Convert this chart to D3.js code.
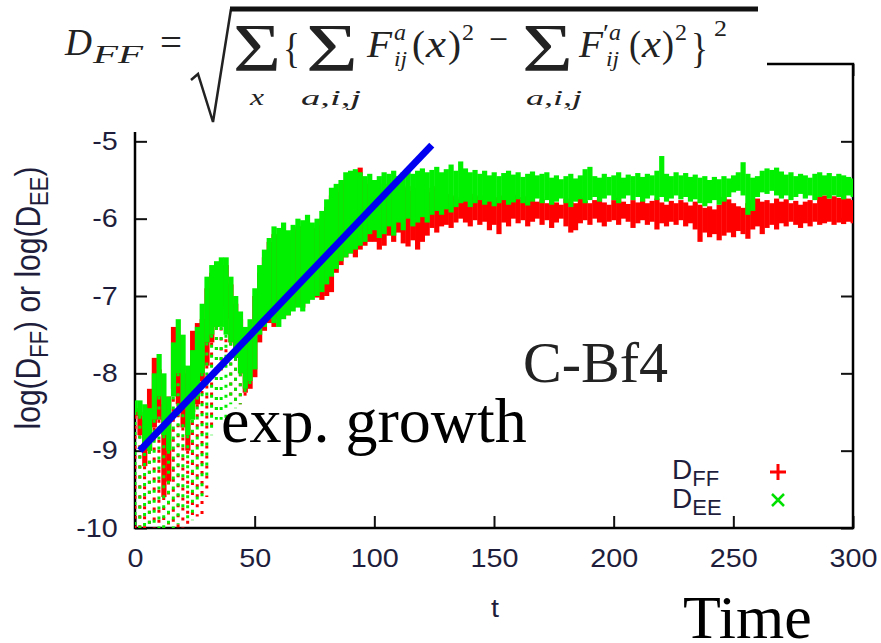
<!DOCTYPE html>
<html><head><meta charset="utf-8">
<script src="https://d3js.org/d3.v7.min.js"></script>
<style>
  body { margin: 0; background: #fff; }
  svg { display: block; }
  .tick text { font-family: "Liberation Sans", Arial, sans-serif; font-size: 25px; fill: #1e1e3c; }
  .tick line { stroke: #111; stroke-width: 2; }
</style>
</head>
<body>
<svg id="chart" width="881" height="643"></svg>
<script>
// ---- data ----
// time grid: one bin every 2 units of t, 0..300
let tValues = d3.range(0, 301, 2);

let xTicks = [0, 50, 100, 150, 200, 250, 300];
let yTicks = [-10, -9, -8, -7, -6, -5];

// D_FF (red): dense band top / bottom per bin
let redHi = [
  -8.45,-8.50,-8.60,-8.20,-7.80,-7.95,-8.40,-8.30,-7.40,-7.50,-7.90,-8.00,-7.45,-7.35,-7.30,-6.90,-6.70,-6.70,-6.60,-6.60,-6.85,-7.10,-7.30,-7.50,-7.40,
  -7.00,-6.70,-6.50,-6.30,-6.20,-6.20,-6.15,-6.22,-6.15,-6.10,-6.10,-6.05,-6.12,-6.08,-6.00,-5.85,-5.70,-5.65,-5.55,-5.50,-5.45,-5.45,-5.34,-5.50,-5.55,
  -5.60,-5.65,-5.55,-5.62,-5.58,-5.65,-5.60,-5.58,-5.64,-5.60,
  -5.62,-5.66,-5.60,-5.58,-5.62,-5.68,-5.70,-5.72,-5.75,-5.70,
  -5.68,-5.72,-5.70,-5.74,-5.69,-5.72,-5.75,-5.70,-5.73,-5.69,
  -5.72,-5.76,-5.71,-5.74,-5.78,-5.75,-5.80,-5.76,-5.79,-5.82,
  -5.74,-5.78,-5.80,-5.73,-5.77,-5.80,-5.76,-5.74,-5.79,-5.82,
  -5.76,-5.73,-5.78,-5.81,-5.76,-5.79,-5.75,-5.80,-5.77,-5.74,
  -5.79,-5.82,-5.77,-5.80,-5.76,-5.79,-5.83,-5.78,-5.82,-5.86,
  -5.84,-5.88,-5.82,-5.72,-5.75,-5.80,-5.84,-5.86,-5.80,-5.76,
  -5.74,-5.78,-5.76,-5.80,-5.74,-5.78,-5.75,-5.80,-5.77,-5.82,
  -5.78,-5.76,-5.80,-5.72,-5.70,-5.74,-5.71,-5.73,-5.70,-5.74,
  -5.76
];
let redLo = [
  -8.55,-8.80,-9.20,-9.00,-8.70,-8.60,-9.60,-9.40,-8.20,-8.40,-8.70,-9.00,-8.50,-8.40,-8.10,-7.90,-7.60,-7.40,-7.15,-7.30,-7.60,-7.80,-8.00,-8.25,-8.20,
  -8.05,-7.60,-7.45,-7.35,-7.40,-7.30,-7.20,-7.25,-7.15,-7.10,-7.15,-7.05,-7.00,-7.02,-7.05,-7.00,-6.95,-6.70,-6.60,-6.50,-6.45,-6.50,-6.40,-6.35,-6.30,
  -6.30,-6.40,-6.35,-6.22,-6.30,-6.18,-6.32,-6.36,-6.28,-6.40,
  -6.30,-6.22,-6.12,-6.18,-6.10,-6.08,-6.12,-6.05,-6.00,-6.05,
  -6.10,-6.02,-6.08,-6.04,-6.15,-6.08,-6.20,-6.05,-6.10,-6.00,
  -6.06,-6.02,-6.10,-6.04,-6.00,-6.08,-6.02,-6.12,-6.05,-6.00,
  -6.10,-6.18,-6.15,-6.06,-6.02,-6.08,-6.00,-6.05,-6.10,-6.04,
  -6.02,-6.08,-6.00,-6.04,-6.12,-6.06,-6.02,-6.08,-6.04,-6.14,
  -6.06,-6.10,-6.04,-6.08,-6.02,-6.10,-6.06,-6.14,-6.30,-6.18,
  -6.24,-6.20,-6.28,-6.22,-6.18,-6.24,-6.16,-6.20,-6.26,-6.14,
  -6.10,-6.20,-6.12,-6.08,-6.14,-6.06,-6.10,-6.04,-6.08,-6.12,
  -6.06,-6.10,-6.04,-6.08,-6.06,-6.04,-6.08,-6.05,-6.07,-6.04,
  -6.06
];
// sparse scattered points below the band during the early oscillations (t = 0..48)
let redTail = [-10,-10,-10,-10,-10,-10,-10,-10,-10,-10,-10,-10,-9.90,-9.85,-9.90,-9.60,-8.70,-8.50,-8.00,-7.80,-8.30,-8.40,-8.40,-8.30,-8.20];

// D_EE (green)
let greenHi = [
  -8.35,-8.35,-8.40,-8.45,-8.00,-7.75,-8.00,-8.30,-7.60,-7.30,-7.50,-7.90,-7.70,-7.40,-7.10,-6.75,-6.60,-6.55,-6.50,-6.50,-6.75,-7.00,-7.20,-7.40,-7.30,
  -6.90,-6.60,-6.40,-6.25,-6.10,-6.12,-6.05,-6.15,-6.08,-6.00,-6.02,-5.95,-6.05,-6.00,-5.90,-5.75,-5.60,-5.55,-5.50,-5.40,-5.38,-5.36,-5.40,-5.45,-5.42,
  -5.50,-5.45,-5.40,-5.42,-5.38,-5.45,-5.40,-5.36,-5.42,-5.38,
  -5.35,-5.40,-5.37,-5.33,-5.40,-5.36,-5.30,-5.38,-5.26,-5.35,
  -5.40,-5.37,-5.42,-5.38,-5.44,-5.40,-5.45,-5.41,-5.38,-5.43,
  -5.40,-5.46,-5.42,-5.39,-5.44,-5.42,-5.40,-5.47,-5.44,-5.49,
  -5.45,-5.42,-5.48,-5.44,-5.36,-5.33,-5.45,-5.47,-5.42,-5.46,
  -5.44,-5.40,-5.47,-5.43,-5.45,-5.41,-5.46,-5.42,-5.44,-5.38,
  -5.19,-5.42,-5.45,-5.40,-5.44,-5.41,-5.46,-5.43,-5.47,-5.45,
  -5.50,-5.46,-5.49,-5.45,-5.48,-5.44,-5.40,-5.27,-5.42,-5.47,
  -5.45,-5.38,-5.35,-5.37,-5.34,-5.39,-5.43,-5.40,-5.45,-5.42,
  -5.44,-5.47,-5.42,-5.40,-5.44,-5.41,-5.45,-5.42,-5.44,-5.46,
  -5.48
];
let greenLo = [
  -8.50,-8.55,-8.90,-9.00,-8.60,-8.30,-8.80,-9.00,-8.30,-8.00,-8.40,-8.80,-8.60,-8.30,-8.00,-7.60,-7.50,-7.40,-7.40,-7.50,-7.60,-7.80,-8.00,-8.20,-8.10,
  -7.95,-7.50,-7.40,-7.30,-7.35,-7.40,-7.30,-7.25,-7.20,-7.15,-7.20,-7.10,-7.05,-7.00,-6.95,-6.85,-6.75,-6.65,-6.55,-6.50,-6.45,-6.40,-6.35,-6.30,-6.20,
  -6.15,-6.25,-6.20,-6.10,-6.22,-6.05,-6.15,-6.00,-6.10,-6.05,
  -5.98,-6.05,-5.95,-5.90,-5.95,-5.88,-5.92,-5.85,-5.80,-5.78,
  -5.85,-5.80,-5.76,-5.82,-5.78,-5.84,-5.80,-5.76,-5.82,-5.79,
  -5.75,-5.80,-5.83,-5.78,-5.74,-5.80,-5.76,-5.82,-5.78,-5.74,
  -5.80,-5.85,-5.78,-5.75,-5.80,-5.76,-5.72,-5.78,-5.74,-5.70,
  -5.76,-5.80,-5.74,-5.70,-5.76,-5.72,-5.78,-5.74,-5.70,-5.76,
  -5.72,-5.78,-5.74,-5.70,-5.75,-5.72,-5.78,-5.75,-5.80,-5.84,
  -5.80,-5.76,-5.82,-5.78,-5.72,-5.66,-5.64,-5.70,-5.95,-5.90,
  -5.72,-5.66,-5.68,-5.64,-5.70,-5.74,-5.70,-5.76,-5.72,-5.68,
  -5.74,-5.70,-5.76,-5.72,-5.70,-5.74,-5.70,-5.72,-5.75,-5.70,
  -5.72
];
let greenTail = [-10,-10,-10,-10,-10,-10,-10,-10,-10,-9.95,-9.80,-9.90,-9.90,-9.70,-9.60,-9.40,-8.80,-8.60,-8.60,-8.60,-8.40,-8.45,-8.40,-8.30,-8.20];

// fitted exponential-growth line (t, log D)
let growthT = [2, 124];
let growthV = [-9.0, -5.05];

// ---- layout ----
let svg = d3.select("#chart");
let x = d3.scaleLinear().domain([0, 300]).range([135, 853]);
let y = d3.scaleLinear().domain([-10, -4]).range([528, 64]);
let binHalf = 1;

svg.append("defs").append("clipPath").attr("id", "plotClip")
  .append("rect").attr("x", 135).attr("y", 64).attr("width", 718).attr("height", 464);

// axes with inward ticks (gnuplot style, mirrored)
let xAxis = svg.append("g").attr("transform", "translate(0,528)")
  .call(d3.axisBottom(x).tickValues(xTicks).tickSizeInner(-12).tickSizeOuter(0).tickPadding(21).tickFormat(d => String(d)));
let yAxis = svg.append("g").attr("transform", "translate(135,0)")
  .call(d3.axisLeft(y).tickValues(yTicks).tickSizeInner(-12).tickSizeOuter(0).tickPadding(15).tickFormat(d => String(d)));
svg.append("g").attr("transform", "translate(853,0)")
  .call(d3.axisRight(y).tickValues(yTicks).tickSizeInner(-12).tickSizeOuter(0).tickFormat(""));
svg.append("g").attr("transform", "translate(0,64)")
  .call(d3.axisTop(x).tickValues(xTicks).tickSizeInner(-12).tickSizeOuter(0).tickFormat(""));
svg.selectAll(".domain").remove();
xAxis.selectAll("text").attr("transform", "scale(1.15,1)");
yAxis.selectAll("text").attr("transform", "scale(1.15,1)");

svg.append("rect").attr("x", 135).attr("y", 64).attr("width", 718).attr("height", 464)
  .style("fill", "none").style("stroke", "#000").style("stroke-width", 2.5);

// ---- data marks ----
let plot = svg.append("g").attr("clip-path", "url(#plotClip)");

function drawSeries(hi, lo, tail, color) {
  let g = plot.append("g");
  g.selectAll("line.tail").data(tail).enter().append("line")
    .attr("class", "tail")
    .attr("x1", (d, i) => x(tValues[i])).attr("x2", (d, i) => x(tValues[i]))
    .attr("y1", (d, i) => y(lo[i])).attr("y2", d => y(d))
    .style("stroke", color).style("stroke-width", 3).style("stroke-dasharray", "3,7");
  g.selectAll("rect").data(hi).enter().append("rect")
    .attr("x", (d, i) => x(tValues[i] - binHalf))
    .attr("width", x(2 * binHalf) - x(0) + 0.4)
    .attr("y", d => y(d))
    .attr("height", (d, i) => y(lo[i]) - y(d))
    .style("fill", color);
}
drawSeries(redHi, redLo, redTail, "#ff0000");
drawSeries(greenHi, greenLo, greenTail, "#00f000");

// blank area behind the formula (covers top of frame)
svg.append("rect").attr("x", 0).attr("y", 0).attr("width", 767).attr("height", 132).style("fill", "#fff");

// exponential growth fit
svg.append("path")
  .datum(growthT.map((t, i) => [t, growthV[i]]))
  .attr("d", d3.line().x(d => x(d[0])).y(d => y(d[1])))
  .style("fill", "none").style("stroke", "#0000f0").style("stroke-width", 7);

// ---- formula ----
let fml = svg.append("g").style("font-family", "'Liberation Serif', 'Times New Roman', serif").style("fill", "#222");
let pieces = [
  ["D", 65, 55, 38, true, 27], ["FF", 93, 63, 26, true, 50], ["=", 160, 55, 38, false, 22],
  ["Σ", 233, 70, 68, false, 48], ["x", 250, 105, 24, true, 14], ["{", 283, 62, 42, false, 17],
  ["Σ", 306, 70, 68, false, 52], ["a,i,j", 301, 105, 22, true, 60],
  ["F", 367, 57, 38, true, 25], ["a", 394, 40, 24, true, 12], ["ij", 394, 66, 22, true, 13],
  ["(", 412, 57, 38, false, 13], ["x", 426, 57, 38, true, 20], [")", 448, 57, 38, false, 13],
  ["2", 462, 40, 24, false, 12], ["−", 489, 52, 38, false, 19],
  ["Σ", 522, 70, 68, false, 51], ["a,i,j", 526, 105, 22, true, 56],
  ["F", 579, 57, 38, true, 24], ["′", 603, 42, 26, false, 6], ["a", 609, 40, 24, true, 12], ["ij", 606, 66, 22, true, 13],
  ["(", 629, 57, 38, false, 12], ["x", 642, 57, 38, true, 19], [")", 662, 57, 38, false, 12],
  ["2", 675, 40, 24, false, 12], ["}", 691, 62, 42, false, 17], ["2", 714, 36, 24, false, 13]
];
pieces.forEach(function(p) {
  fml.append("text").attr("x", p[1]).attr("y", p[2]).text(p[0])
    .style("font-size", p[3] + "px").style("font-style", p[4] ? "italic" : "normal")
    .attr("textLength", p[5]).attr("lengthAdjust", "spacingAndGlyphs");
});
// radical sign and overline
fml.append("path").attr("d", "M191,80 L198,74 L213,122 L231,9")
  .style("fill", "none").style("stroke", "#222").style("stroke-width", 2.5);
fml.append("line").attr("x1", 230).attr("x2", 758).attr("y1", 9).attr("y2", 9)
  .style("stroke", "#111").style("stroke-width", 5);

// ---- labels ----
let sans = "'Liberation Sans', Arial, sans-serif";
let serif = "'Liberation Serif', 'Times New Roman', serif";

let yl = svg.append("text").attr("transform", "translate(40,298) scale(1.15,1) rotate(-90)")
  .attr("text-anchor", "middle").style("font-family", sans).style("font-size", "30px").style("fill", "#1e1e3c");
yl.append("tspan").text("log(D");
yl.append("tspan").text("FF").attr("dy", 7).style("font-size", "22px");
yl.append("tspan").text(") or log(D").attr("dy", -7);
yl.append("tspan").text("EE").attr("dy", 7).style("font-size", "22px");
yl.append("tspan").text(")").attr("dy", -7);

svg.append("text").attr("transform", "translate(495,617) scale(1.15,1)").attr("text-anchor", "middle")
  .style("font-family", sans).style("font-size", "25px").style("fill", "#1e1e3c").text("t");

svg.append("text").attr("x", 221).attr("y", 442).style("font-family", serif).style("font-size", "64px").style("fill", "#000").text("exp. growth");
svg.append("text").attr("x", 683).attr("y", 638).style("font-family", serif).style("font-size", "62px").style("fill", "#000").text("Time");
svg.append("text").attr("x", 523).attr("y", 382).style("font-family", serif).style("font-size", "58px").style("fill", "#222").text("C-Bf4");

// legend
let legendRows = [["FF", 479, "#ff0000"], ["EE", 508, "#00e000"]];
legendRows.forEach(function(r, i) {
  let t = svg.append("text").attr("x", 672).attr("y", r[1]).style("font-family", sans).style("font-size", "28px").style("fill", "#1e1e3c");
  t.append("tspan").text("D");
  t.append("tspan").text(r[0]).attr("dy", 7).style("font-size", "22px");
});
svg.append("path").attr("transform", "translate(778,472)").attr("d", "M-8,0H8M0,-8V8")
  .style("stroke", "#ff0000").style("stroke-width", 3);
svg.append("path").attr("transform", "translate(778,500)").attr("d", "M-6,-6L6,6M-6,6L6,-6")
  .style("stroke", "#00e000").style("stroke-width", 2.5);
</script>
</body></html>
